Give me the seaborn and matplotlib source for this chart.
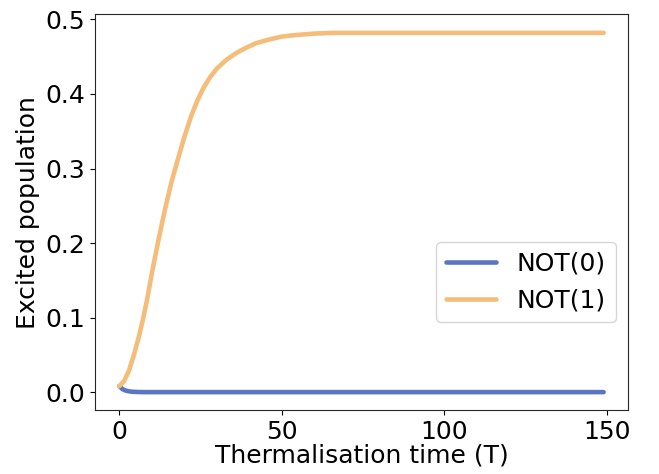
import matplotlib
matplotlib.use("Agg")
import matplotlib.pyplot as plt
import seaborn as sns
import pandas as pd

# values
time_not1 = [0, 1.5, 3, 4.5, 6, 7.3, 8.5, 10, 12, 14, 16, 18, 20, 22, 24, 26, 28,
             30, 33, 36, 39, 42, 46, 50, 54, 60, 66, 80, 100, 149]
pop_not1 = [0.008, 0.015, 0.029, 0.050, 0.074, 0.098, 0.123, 0.159, 0.203, 0.244,
            0.281, 0.312, 0.342, 0.369, 0.391, 0.409, 0.423, 0.434, 0.446, 0.455,
            0.462, 0.468, 0.473, 0.477, 0.479, 0.481, 0.482, 0.482, 0.482, 0.482]

time_not0 = [0, 1, 2, 3, 4, 6, 8, 20, 149]
pop_not0 = [0.008, 0.004, 0.002, 0.001, 0.0005, 0.0001, 0.0, 0.0, 0.0]

df = pd.concat([
    pd.DataFrame({"time": time_not0, "pop": pop_not0, "gate": "NOT(0)"}),
    pd.DataFrame({"time": time_not1, "pop": pop_not1, "gate": "NOT(1)"}),
])

sns.set_style("ticks")
plt.rcParams.update({"text.color": "black", "axes.labelcolor": "black",
                     "xtick.color": "black", "ytick.color": "black"})
fig, ax = plt.subplots(figsize=(6.59, 4.74), dpi=100)
fig.subplots_adjust(left=0.144, right=0.953, top=0.970, bottom=0.135)

sns.lineplot(data=df, x="time", y="pop", hue="gate",
             palette=["#5975c4", "#f5bd79"], linewidth=3.3, ax=ax)

ax.set_xlabel("Thermalisation time (T)", fontsize=18, labelpad=0)
ax.set_ylabel("Excited population", fontsize=18)
ax.tick_params(labelsize=18)
ax.set_xticks([0, 50, 100, 150])
ax.set_yticks([0.0, 0.1, 0.2, 0.3, 0.4, 0.5])
ax.set_ylim(-0.024, 0.507)
ax.set_xlim(-7.5, 156.5)

leg = ax.legend(title=None, fontsize=18, loc="lower right",
                bbox_to_anchor=(1.0, 0.19))

plt.savefig("out.png")
